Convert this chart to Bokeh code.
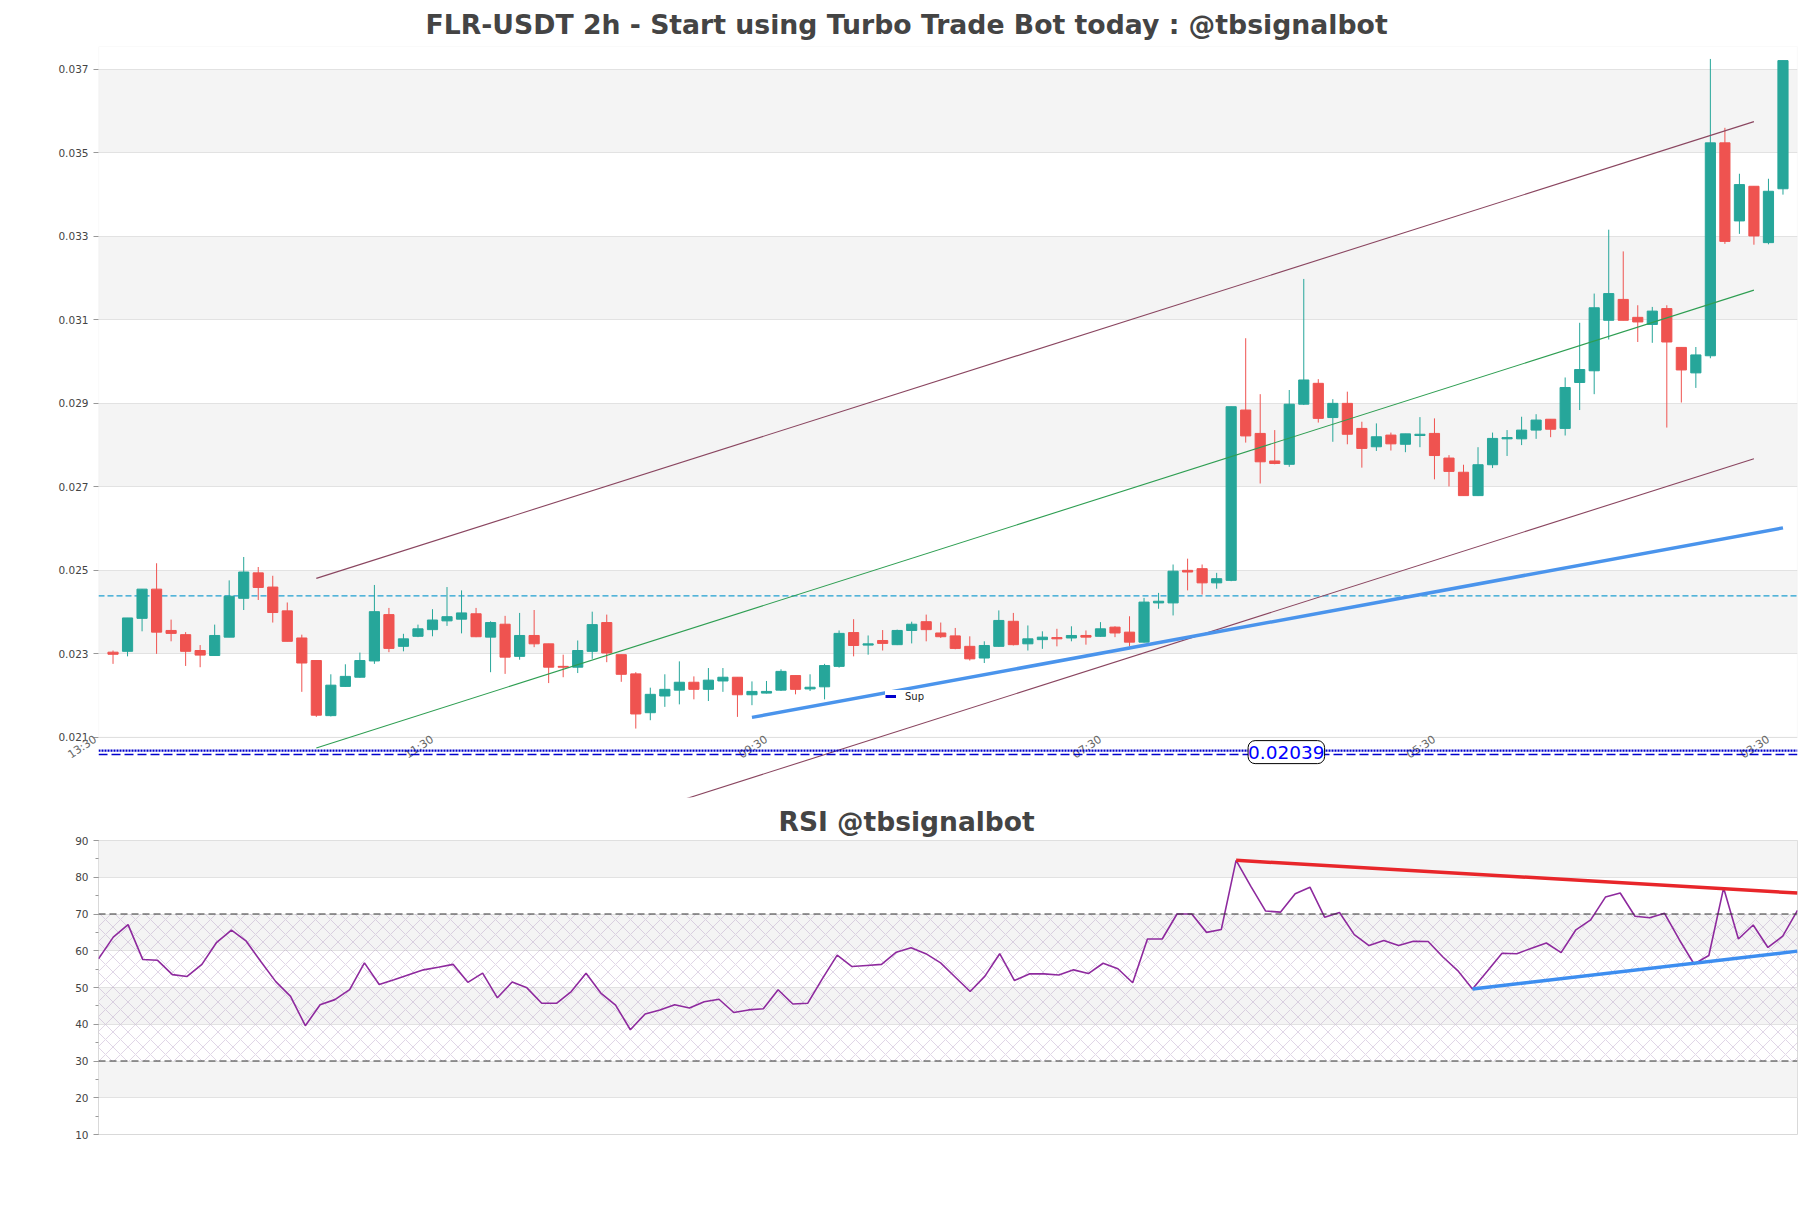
from bokeh.plotting import figure
from bokeh.models import (Range1d, FixedTicker, NumeralTickFormatter, BoxAnnotation, Span, Label,
                          Legend, LegendItem, SingleIntervalTicker, ColumnDataSource)
from bokeh.layouts import column
from bokeh.embed import file_html
from bokeh.resources import INLINE

# ---------------- data ----------------
opens = [0.02304, 0.02306, 0.02385, 0.02455, 0.02356, 0.02346, 0.02308, 0.02296, 0.02340, 0.02433,
         0.02494, 0.02460, 0.02403, 0.02338, 0.02284, 0.02152, 0.02222, 0.02244, 0.02283, 0.02394,
         0.02318, 0.02342, 0.02358, 0.02379, 0.02383, 0.02396, 0.02340, 0.02371, 0.02294, 0.02344,
         0.02324, 0.02270, 0.02268, 0.02306, 0.02375, 0.02298, 0.02252, 0.02159, 0.02199, 0.02213,
         0.02232, 0.02215, 0.02235, 0.02244, 0.02202, 0.02206, 0.02213, 0.02248, 0.02216, 0.02221,
         0.02270, 0.02351, 0.02321, 0.02332, 0.02322, 0.02356, 0.02377, 0.02350, 0.02343, 0.02318,
         0.02290, 0.02318, 0.02378, 0.02324, 0.02334, 0.02339, 0.02338, 0.02344, 0.02342, 0.02364,
         0.02352, 0.02328, 0.02422, 0.02422, 0.02500, 0.02504, 0.02470, 0.02476, 0.02884, 0.02828,
         0.02762, 0.02754, 0.02898, 0.02948, 0.02866, 0.02900, 0.02840, 0.02796, 0.02824, 0.02802,
         0.02823, 0.02828, 0.02769, 0.02735, 0.02679, 0.02753, 0.02815, 0.02815, 0.02836, 0.02862,
         0.02840, 0.02950, 0.02978, 0.03099, 0.03149, 0.03106, 0.03089, 0.03127, 0.03034, 0.02973,
         0.03014, 0.03524, 0.03337, 0.03420, 0.03285, 0.03414]
highs = [0.02308, 0.02386, 0.02455, 0.02517, 0.02382, 0.02352, 0.02321, 0.02370, 0.02476, 0.02532,
         0.02508, 0.02487, 0.02423, 0.02346, 0.02284, 0.02251, 0.02275, 0.02303, 0.02465, 0.02410,
         0.02348, 0.02370, 0.02407, 0.02460, 0.02452, 0.02410, 0.02378, 0.02391, 0.02398, 0.02405,
         0.02324, 0.02298, 0.02332, 0.02401, 0.02394, 0.02298, 0.02256, 0.02219, 0.02251, 0.02282,
         0.02246, 0.02266, 0.02266, 0.02244, 0.02234, 0.02235, 0.02263, 0.02248, 0.02251, 0.02276,
         0.02356, 0.02383, 0.02344, 0.02357, 0.02358, 0.02377, 0.02394, 0.02375, 0.02362, 0.02342,
         0.02330, 0.02404, 0.02398, 0.02368, 0.02354, 0.02360, 0.02366, 0.02356, 0.02376, 0.02366,
         0.02390, 0.02434, 0.02446, 0.02514, 0.02528, 0.02514, 0.02494, 0.02892, 0.03056, 0.02922,
         0.02836, 0.02932, 0.03198, 0.02958, 0.02910, 0.02928, 0.02856, 0.02852, 0.02830, 0.02827,
         0.02867, 0.02864, 0.02776, 0.02753, 0.02795, 0.02830, 0.02836, 0.02868, 0.02874, 0.02862,
         0.02962, 0.03093, 0.03163, 0.03316, 0.03264, 0.03135, 0.03131, 0.03135, 0.03034, 0.03035,
         0.03725, 0.03560, 0.03450, 0.03420, 0.03438, 0.03721]
lows = [0.02276, 0.02294, 0.02354, 0.02300, 0.02330, 0.02271, 0.02268, 0.02296, 0.02340, 0.02405,
        0.02429, 0.02375, 0.02330, 0.02209, 0.02149, 0.02150, 0.02221, 0.02243, 0.02276, 0.02304,
        0.02306, 0.02340, 0.02342, 0.02367, 0.02349, 0.02340, 0.02256, 0.02252, 0.02286, 0.02316,
        0.02230, 0.02244, 0.02254, 0.02288, 0.02280, 0.02233, 0.02121, 0.02141, 0.02173, 0.02179,
        0.02191, 0.02187, 0.02209, 0.02149, 0.02177, 0.02205, 0.02211, 0.02203, 0.02211, 0.02191,
        0.02267, 0.02294, 0.02298, 0.02308, 0.02321, 0.02325, 0.02330, 0.02338, 0.02311, 0.02284,
        0.02278, 0.02317, 0.02320, 0.02308, 0.02312, 0.02318, 0.02330, 0.02322, 0.02341, 0.02340,
        0.02318, 0.02327, 0.02408, 0.02392, 0.02452, 0.02442, 0.02456, 0.02474, 0.02806, 0.02708,
        0.02754, 0.02748, 0.02896, 0.02854, 0.02808, 0.02802, 0.02746, 0.02786, 0.02787, 0.02783,
        0.02795, 0.02718, 0.02701, 0.02679, 0.02678, 0.02745, 0.02774, 0.02800, 0.02815, 0.02819,
        0.02823, 0.02884, 0.02922, 0.03053, 0.03099, 0.03047, 0.03045, 0.02842, 0.02902, 0.02937,
        0.03008, 0.03282, 0.03306, 0.03280, 0.03281, 0.03400]
closes = [0.02299, 0.02386, 0.02455, 0.02352, 0.02349, 0.02306, 0.02297, 0.02344, 0.02438, 0.02496,
          0.02459, 0.02399, 0.02330, 0.02278, 0.02153, 0.02225, 0.02246, 0.02284, 0.02401, 0.02313,
          0.02336, 0.02360, 0.02381, 0.02389, 0.02398, 0.02341, 0.02375, 0.02292, 0.02344, 0.02324,
          0.02268, 0.02268, 0.02308, 0.02370, 0.02302, 0.02251, 0.02156, 0.02203, 0.02215, 0.02232,
          0.02215, 0.02237, 0.02244, 0.02202, 0.02210, 0.02210, 0.02258, 0.02215, 0.02220, 0.02272,
          0.02349, 0.02320, 0.02324, 0.02325, 0.02356, 0.02371, 0.02358, 0.02341, 0.02313, 0.02288,
          0.02320, 0.02380, 0.02322, 0.02336, 0.02340, 0.02336, 0.02344, 0.02340, 0.02360, 0.02350,
          0.02328, 0.02424, 0.02426, 0.02498, 0.02496, 0.02470, 0.02480, 0.02892, 0.02822, 0.02760,
          0.02756, 0.02898, 0.02956, 0.02864, 0.02900, 0.02826, 0.02792, 0.02820, 0.02803, 0.02827,
          0.02826, 0.02775, 0.02737, 0.02679, 0.02753, 0.02816, 0.02818, 0.02836, 0.02860, 0.02838,
          0.02938, 0.02981, 0.03129, 0.03163, 0.03099, 0.03095, 0.03121, 0.03047, 0.02980, 0.03016,
          0.03524, 0.03288, 0.03424, 0.03301, 0.03408, 0.03721]

rsi_values = [57.8, 63.7, 67.1, 57.6, 57.4, 53.5, 53.0, 56.3, 62.3, 65.6,
              62.6, 57.0, 51.6, 47.6, 39.6, 45.3, 46.7, 49.4, 56.7, 50.8,
              52.1, 53.5, 54.8, 55.5, 56.3, 51.4, 53.9, 47.2, 51.5, 49.9,
              45.7, 45.7, 48.9, 53.9, 48.5, 45.2, 38.5, 42.8, 43.9, 45.3,
              44.4, 46.1, 46.8, 43.2, 43.9, 44.2, 49.4, 45.5, 45.7, 52.4,
              58.8, 55.7, 56.0, 56.3, 59.6, 60.8, 59.2, 56.7, 52.8, 48.9,
              53.1, 59.2, 51.9, 53.7, 53.7, 53.4, 54.8, 53.8, 56.6, 55.1,
              51.3, 63.2, 63.2, 70.0, 70.0, 65.0, 65.8, 84.6, 77.5, 70.8,
              70.5, 75.5, 77.3, 69.1, 70.4, 64.4, 61.4, 62.8, 61.4, 62.6,
              62.5, 58.3, 54.6, 49.6, 54.4, 59.3, 59.2, 60.7, 62.1, 59.5,
              65.7, 68.4, 74.6, 75.7, 69.4, 69.0, 70.2, 63.0, 56.4, 58.7,
              77.1, 63.2, 67.0, 60.9, 64.0, 71.0]

time_tick_idx = [-1, 22, 45, 68, 91, 114]
time_tick_labels = ["13:30", "11:30", "09:30", "07:30", "05:30", "03:30"]
price_ticks = [0.021, 0.023, 0.025, 0.027, 0.029, 0.031, 0.033, 0.035, 0.037]
price_band_lows = [0.023, 0.027, 0.031, 0.035]
rsi_band_lows = [20, 40, 60, 80]

# trend / channel lines (candle index, price)
chan_x = [14, 113]
chan_upper = [0.024808, 0.035749]
chan_mid = [0.020747, 0.031712]
chan_lower = [0.016710, 0.027675]
sup_x = [44, 115]
sup_y = [0.021478, 0.026017]
level_price = 0.02439
dotted_price = 0.020682
dashed_price = 0.020587
last_label = "0.02039"
last_label_pos = (80.8, 0.020646)

rsi_res_x = [77, 115]
rsi_res_y = [84.6, 75.7]
rsi_sup_x = [93, 115]
rsi_sup_y = [49.6, 59.9]

FONT = "DejaVu Sans"
GREEN = "#26a69a"
RED = "#ef5350"
LABEL_ANGLE = 0.58

# ---------------- main chart ----------------
n = len(closes)
idx = list(range(n))
src = ColumnDataSource(dict(
    x=idx, open=opens, high=highs, low=lows, close=closes,
    top=[max(o, c) for o, c in zip(opens, closes)],
    bottom=[min(o, c) for o, c in zip(opens, closes)],
    color=[GREEN if c >= o else RED for o, c in zip(opens, closes)],
))

p = figure(width=1811, height=799, x_range=Range1d(-1, 116), y_range=Range1d(0.019559, 0.037548),
           output_backend="svg", toolbar_location=None,
           min_border_left=98, min_border_right=14, min_border_top=44, min_border_bottom=2)
p.outline_line_color = None
p.title.text = "FLR-USDT 2h - Start using Turbo Trade Bot today : @tbsignalbot"
p.title.text_font = FONT
p.title.text_font_size = "26.7px"
p.title.text_font_style = "bold"
p.title.text_color = "#444444"
p.title.align = "left"
p.title.offset = 327
p.title.standoff = 13

for lo in price_band_lows:
    p.add_layout(BoxAnnotation(bottom=lo, top=lo + 0.002, fill_color="#f4f4f4", fill_alpha=1,
                               line_color=None, level="image"))

p.xgrid.grid_line_color = None
p.ygrid.ticker = FixedTicker(ticks=price_ticks)
p.ygrid.grid_line_color = "#e2e2e2"
p.add_layout(BoxAnnotation(bottom=price_ticks[0], fill_color=None, line_color="#d9d9d9",
                           line_width=1.2, level="underlay"))

p.yaxis.ticker = FixedTicker(ticks=price_ticks, minor_ticks=[])
p.yaxis.formatter = NumeralTickFormatter(format="0.000")
p.yaxis.axis_line_color = None
p.yaxis.major_tick_line_color = "#999999"
p.yaxis.major_tick_out = 5
p.yaxis.major_tick_in = 0
p.yaxis.minor_tick_line_color = None
p.yaxis.major_label_text_font = FONT
p.yaxis.major_label_text_font_size = "10.5px"
p.yaxis.major_label_text_color = "#444444"
p.yaxis.major_label_standoff = 5

# the time axis sits on the 0.021 line; its first tick lies on the frame edge, where a
# fixed-location axis is clipped, so that one label is drawn by a Label in the side panel.
p.xaxis.ticker = FixedTicker(ticks=time_tick_idx[1:], minor_ticks=[])
p.xaxis.major_label_overrides = {t: l for t, l in zip(time_tick_idx[1:], time_tick_labels[1:])}
p.xaxis.fixed_location = price_ticks[0]
p.xaxis.axis_line_color = None
p.xaxis.major_tick_line_color = None
p.xaxis.minor_tick_line_color = None
p.xaxis.major_tick_out = 0
p.xaxis.major_tick_in = 0
p.xaxis.major_label_orientation = LABEL_ANGLE
p.xaxis.major_label_text_font = FONT
p.xaxis.major_label_text_font_size = "11px"
p.xaxis.major_label_text_color = "#666666"
p.xaxis.major_label_standoff = 1
p.add_layout(Label(x=time_tick_idx[0], y=price_ticks[0], text=time_tick_labels[0],
                   angle=LABEL_ANGLE, text_align="right", text_baseline="middle",
                   x_offset=-3, y_offset=-1, text_font=FONT, text_font_size="11px",
                   text_color="#666666"),
             "left")

p.add_layout(Span(location=level_price, dimension="width", line_color="#1f9fd0",
                  line_dash="6 3", line_width=1.2, level="underlay"))

p.segment(x0="x", y0="low", x1="x", y1="high", line_color="color", line_width=1, source=src)
p.vbar(x="x", width=0.7, top="top", bottom="bottom", fill_color="color", line_color="color",
       line_width=1, source=src)

p.line(chan_x, chan_upper, line_color="#8a4660", line_width=1.1)
p.line(chan_x, chan_mid, line_color="#2e9e52", line_width=1.1)
p.line(chan_x, chan_lower, line_color="#8a4660", line_width=1.1)
p.line(sup_x, sup_y, line_color="#4a94ec", line_width=3.5)

p.add_layout(Span(location=dotted_price, dimension="width", line_color="#0000cc",
                  line_dash="2 1", line_width=2.2))
p.add_layout(Span(location=dashed_price, dimension="width", line_color="#0000cc",
                  line_dash="9 4", line_width=1.5))

p.add_layout(Label(x=last_label_pos[0], y=last_label_pos[1], text=last_label,
                   text_align="center", text_baseline="middle", text_color="#0000ff",
                   text_font=FONT, text_font_size="18.5px",
                   background_fill_color="white", border_line_color="black", border_line_width=1,
                   border_radius=7, padding=(0, 5)))

# legend entry "Sup": a one-point line (draws nothing on the chart, only its legend glyph)
r_sup = p.line(x=sup_x[:1], y=sup_y[:1], line_color="#0000cd", line_width=3)
legend = Legend(items=[LegendItem(label="Sup", renderers=[r_sup])], location=(787, 95),
                label_text_font=FONT, label_text_font_size="10px", label_text_color="#222222",
                glyph_width=11, glyph_height=12, label_height=12, padding=3, margin=0, spacing=0,
                label_standoff=9, background_fill_color="white", background_fill_alpha=1,
                border_line_color=None)
p.add_layout(legend)

# ---------------- RSI chart ----------------
r = figure(width=1811, height=409, x_range=Range1d(0, n - 1), y_range=Range1d(10, 90),
           output_backend="svg", toolbar_location=None,
           min_border_left=98, min_border_right=14, min_border_top=41, min_border_bottom=74)
r.outline_line_color = "#d9d9d9"
r.title.text = "RSI @tbsignalbot"
r.title.text_font = FONT
r.title.text_font_size = "26.5px"
r.title.text_font_style = "bold"
r.title.text_color = "#444444"
r.title.align = "left"
r.title.offset = 680
r.title.standoff = 8

for lo in rsi_band_lows:
    r.add_layout(BoxAnnotation(bottom=lo, top=lo + 10, fill_color="#f4f4f4", fill_alpha=1,
                               line_color=None, level="image"))
r.add_layout(BoxAnnotation(bottom=30, top=70, fill_color=None, line_color=None,
                           hatch_pattern="x", hatch_color="#a88bbd", hatch_alpha=0.6,
                           hatch_scale=15, hatch_weight=0.6, level="underlay"))

r.xgrid.grid_line_color = None
r.ygrid.grid_line_color = "#e2e2e2"
r.xaxis.visible = False
r.yaxis.ticker = SingleIntervalTicker(interval=10, num_minor_ticks=2)
r.ygrid.ticker = SingleIntervalTicker(interval=10)
r.yaxis.axis_line_color = None
r.yaxis.major_tick_line_color = "#999999"
r.yaxis.minor_tick_line_color = "#999999"
r.yaxis.major_tick_out = 5
r.yaxis.major_tick_in = 0
r.yaxis.minor_tick_out = 3
r.yaxis.minor_tick_in = 0
r.yaxis.major_label_text_font = FONT
r.yaxis.major_label_text_font_size = "10.5px"
r.yaxis.major_label_text_color = "#444444"
r.yaxis.major_label_standoff = 5

for lvl in (70, 30):
    r.add_layout(Span(location=lvl, dimension="width", line_color="#333333", line_dash="7 4",
                      line_width=1.2))

r.line(idx, rsi_values, line_color="#8e2a9e", line_width=1.6)
r.line(rsi_res_x, rsi_res_y, line_color="#e8262a", line_width=3.5)
r.line(rsi_sup_x, rsi_sup_y, line_color="#3d8ef0", line_width=3.5)

layout = column(p, r)
open("out.html", "w").write(file_html(layout, INLINE))
